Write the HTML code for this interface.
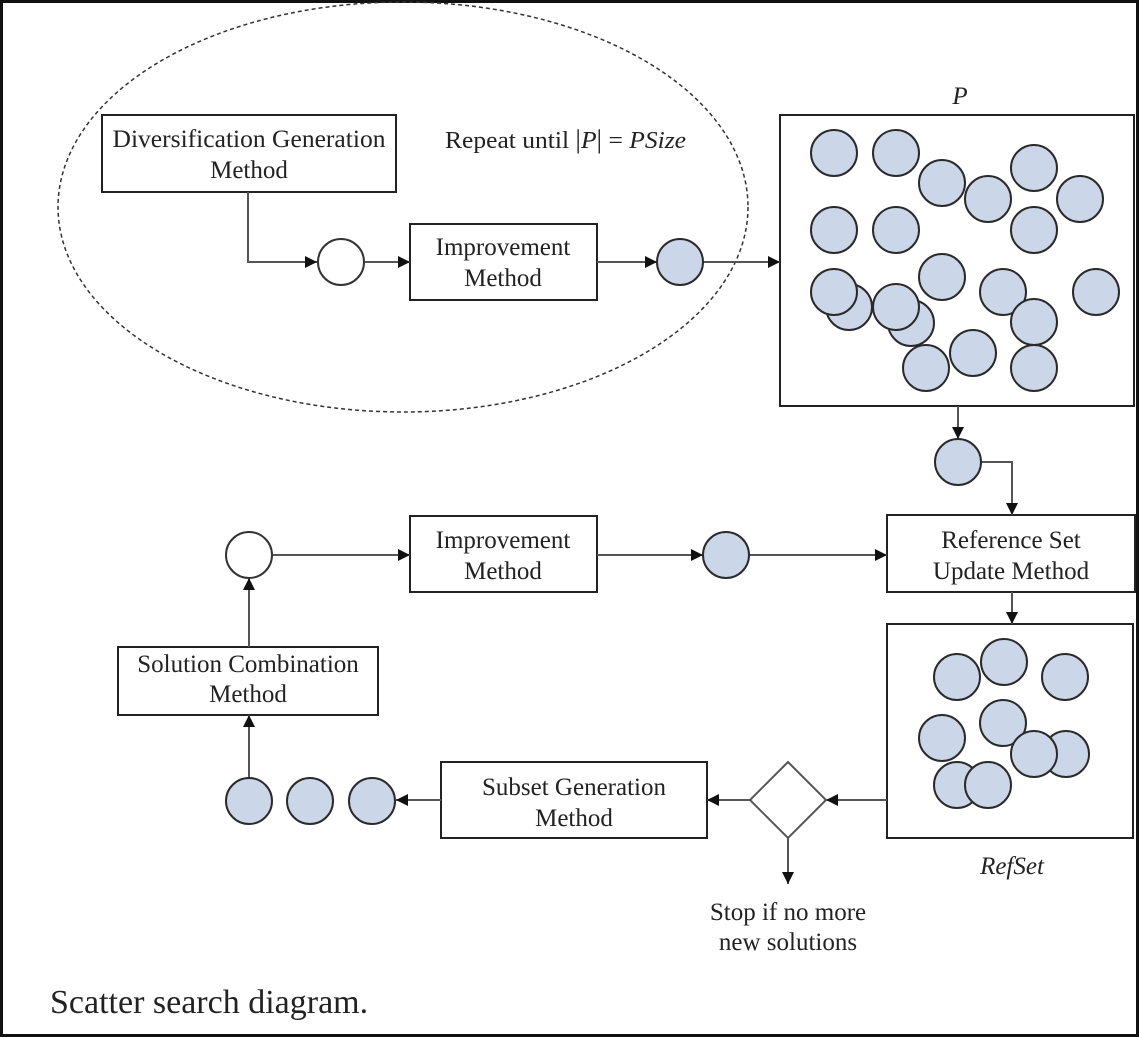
<!DOCTYPE html>
<html><head><meta charset="utf-8"><style>
html,body{margin:0;padding:0;background:#fff}
svg{display:block}
text{font-family:"Liberation Serif",serif;fill:#222}
</style></head><body>
<svg width="1139" height="1037" viewBox="0 0 1139 1037" xmlns="http://www.w3.org/2000/svg">
<defs>
<marker id="a" viewBox="0 0 10 10" refX="10" refY="5" markerWidth="14" markerHeight="12" markerUnits="userSpaceOnUse" orient="auto"><path d="M0,0L10,5L0,10z" fill="#111"/></marker>
</defs>
<rect x="1.5" y="1.5" width="1136" height="1034" fill="#fff" stroke="#111" stroke-width="3"/>
<ellipse cx="403" cy="207" rx="345" ry="205" fill="none" stroke="#333" stroke-width="1.5" stroke-dasharray="4,3"/>
<g fill="none" stroke="#222" stroke-width="2">
<rect x="102" y="115" width="294" height="77"/>
<rect x="410" y="224" width="187" height="76"/>
<rect x="780" y="115" width="354" height="291"/>
<rect x="887" y="515" width="248" height="77"/>
<rect x="887" y="624" width="246" height="214"/>
<rect x="410" y="516" width="187" height="76"/>
<rect x="118" y="647" width="260" height="68"/>
<rect x="441" y="762" width="266" height="76"/>
</g>
<g fill="none" stroke="#555" stroke-width="2">
<polyline points="248,192 248,262 317,262" marker-end="url(#a)"/>
<line x1="364" y1="262" x2="410" y2="262" marker-end="url(#a)"/>
<line x1="597" y1="262" x2="657" y2="262" marker-end="url(#a)"/>
<line x1="703" y1="262" x2="780" y2="262" marker-end="url(#a)"/>
<line x1="958" y1="406" x2="958" y2="439" marker-end="url(#a)"/>
<polyline points="981,462 1012,462 1012,515" marker-end="url(#a)"/>
<line x1="1012" y1="592" x2="1012" y2="624" marker-end="url(#a)"/>
<line x1="272" y1="555" x2="410" y2="555" marker-end="url(#a)"/>
<line x1="597" y1="555" x2="703" y2="555" marker-end="url(#a)"/>
<line x1="749" y1="555" x2="887" y2="555" marker-end="url(#a)"/>
<line x1="249" y1="647" x2="249" y2="578" marker-end="url(#a)"/>
<line x1="249" y1="778" x2="249" y2="715" marker-end="url(#a)"/>
<line x1="441" y1="800" x2="396" y2="800" marker-end="url(#a)"/>
<line x1="750" y1="800" x2="707" y2="800" marker-end="url(#a)"/>
<line x1="887" y1="800" x2="826" y2="800" marker-end="url(#a)"/>
<line x1="788" y1="838" x2="788" y2="884" marker-end="url(#a)"/>
<polygon points="788,762 826,800 788,838 750,800" fill="#fff"/>
</g>
<g fill="#fff" stroke="#333" stroke-width="2">
<circle cx="341" cy="262" r="23"/>
<circle cx="249" cy="555" r="23"/>
</g>
<g fill="#cbd7e8" stroke="#2a2a2a" stroke-width="2">
<circle cx="680" cy="262" r="23"/>
<circle cx="958" cy="462" r="23"/>
<circle cx="726" cy="555" r="23"/>
<circle cx="249" cy="801" r="23"/>
<circle cx="310" cy="801" r="23"/>
<circle cx="372" cy="801" r="23"/>
<circle cx="834" cy="153" r="23"/>
<circle cx="896" cy="153" r="23"/>
<circle cx="942" cy="183" r="23"/>
<circle cx="988" cy="199" r="23"/>
<circle cx="1034" cy="168" r="23"/>
<circle cx="1080" cy="199" r="23"/>
<circle cx="834" cy="230" r="23"/>
<circle cx="896" cy="230" r="23"/>
<circle cx="1034" cy="230" r="23"/>
<circle cx="942" cy="277" r="23"/>
<circle cx="849" cy="307" r="23"/>
<circle cx="834" cy="292" r="23"/>
<circle cx="911" cy="323" r="23"/>
<circle cx="896" cy="307" r="23"/>
<circle cx="1003" cy="292" r="23"/>
<circle cx="1096" cy="292" r="23"/>
<circle cx="1034" cy="322" r="23"/>
<circle cx="973" cy="353" r="23"/>
<circle cx="926" cy="368" r="23"/>
<circle cx="1034" cy="368" r="23"/>
<circle cx="957" cy="677" r="23"/>
<circle cx="1004" cy="662" r="23"/>
<circle cx="1065" cy="677" r="23"/>
<circle cx="942" cy="738" r="23"/>
<circle cx="1003" cy="723" r="23"/>
<circle cx="1066" cy="754" r="23"/>
<circle cx="1034" cy="754" r="23"/>
<circle cx="957" cy="785" r="23"/>
<circle cx="988" cy="785" r="23"/>
</g>
<g font-size="25" text-anchor="middle">
<text x="249" y="147" textLength="273" lengthAdjust="spacingAndGlyphs">Diversification Generation</text>
<text x="249" y="178">Method</text>
<text x="503" y="255">Improvement</text>
<text x="503" y="286">Method</text>
<text x="503" y="548">Improvement</text>
<text x="503" y="579">Method</text>
<text x="1011" y="548">Reference Set</text>
<text x="1011" y="579">Update Method</text>
<text x="248" y="672">Solution Combination</text>
<text x="248" y="702">Method</text>
<text x="574" y="795">Subset Generation</text>
<text x="574" y="826">Method</text>
<text x="788" y="920">Stop if no more</text>
<text x="788" y="950">new solutions</text>
<text x="960" y="104" font-style="italic">P</text>
<text x="1012" y="874" font-style="italic">RefSet</text>
</g>
<text x="445" y="148" font-size="24" textLength="241" lengthAdjust="spacingAndGlyphs">Repeat until <tspan font-size="26">|</tspan><tspan font-style="italic">P</tspan><tspan font-size="26">|</tspan> = <tspan font-style="italic">PSize</tspan></text>
<text x="50" y="1013" font-size="34">Scatter search diagram.</text>
</svg>
</body></html>
